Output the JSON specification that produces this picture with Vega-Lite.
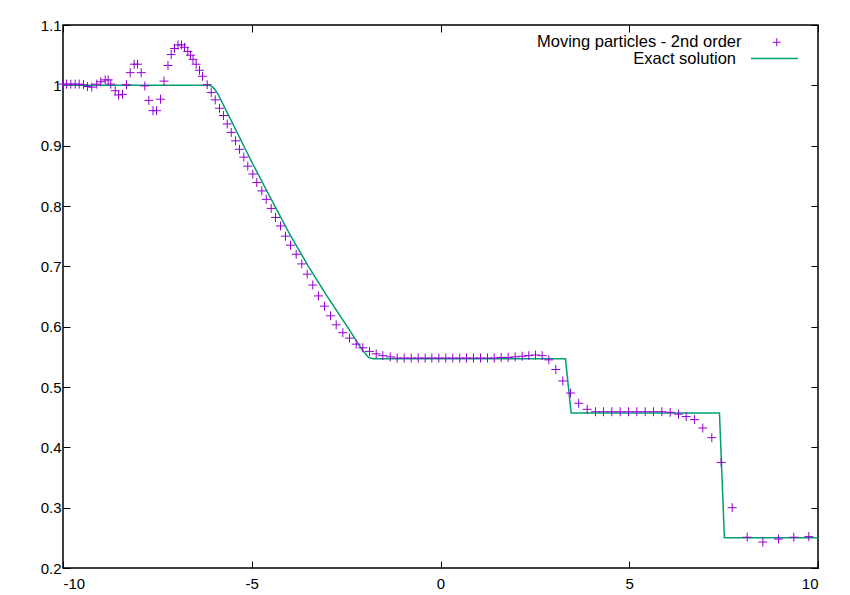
{
  "$schema": "https://vega.github.io/schema/vega-lite/v6.json",
  "autosize": {"type": "none"},
  "width": 755,
  "height": 543,
  "padding": {"left": 63, "top": 25, "right": 32, "bottom": 27},
  "background": "white",
  "config": {
    "view": {"stroke": "black", "strokeWidth": 1.5},
    "font": "Liberation Sans",
    "axis": {"grid": false, "domain": false, "tickColor": "black", "tickSize": -7, "tickWidth": 1, "labelFont": "Liberation Sans", "labelFontSize": 15, "labelColor": "black", "title": null}
  },
  "datasets": {
    "exact": [
      {"x": -10, "y": 1.0, "series": "Exact solution"},
      {"x": -6.1, "y": 1.0, "series": "Exact solution"},
      {"x": -6.0, "y": 0.995, "series": "Exact solution"},
      {"x": -5.9, "y": 0.986, "series": "Exact solution"},
      {"x": -5.5, "y": 0.936, "series": "Exact solution"},
      {"x": -5.0, "y": 0.873, "series": "Exact solution"},
      {"x": -4.5, "y": 0.813, "series": "Exact solution"},
      {"x": -4.0, "y": 0.754, "series": "Exact solution"},
      {"x": -3.5, "y": 0.700, "series": "Exact solution"},
      {"x": -3.0, "y": 0.650, "series": "Exact solution"},
      {"x": -2.5, "y": 0.603, "series": "Exact solution"},
      {"x": -2.1, "y": 0.564, "series": "Exact solution"},
      {"x": -2.0, "y": 0.556, "series": "Exact solution"},
      {"x": -1.9, "y": 0.549, "series": "Exact solution"},
      {"x": -1.8, "y": 0.547, "series": "Exact solution"},
      {"x": 3.31, "y": 0.547, "series": "Exact solution"},
      {"x": 3.46, "y": 0.457, "series": "Exact solution"},
      {"x": 7.39, "y": 0.457, "series": "Exact solution"},
      {"x": 7.52, "y": 0.25, "series": "Exact solution"},
      {"x": 10, "y": 0.25, "series": "Exact solution"}
    ],
    "particles": [
      {"x": -10.0, "y": 1.002}, {"x": -9.907, "y": 1.002}, {"x": -9.793, "y": 1.002}, {"x": -9.677, "y": 1.002},
      {"x": -9.571, "y": 1.002}, {"x": -9.457, "y": 1.001}, {"x": -9.351, "y": 0.998}, {"x": -9.237, "y": 0.997},
      {"x": -9.105, "y": 1.002}, {"x": -8.999, "y": 1.006}, {"x": -8.882, "y": 1.009}, {"x": -8.803, "y": 1.009},
      {"x": -8.734, "y": 1.002}, {"x": -8.617, "y": 0.991}, {"x": -8.530, "y": 0.984}, {"x": -8.424, "y": 0.985},
      {"x": -8.318, "y": 1.001}, {"x": -8.220, "y": 1.021}, {"x": -8.114, "y": 1.035}, {"x": -8.026, "y": 1.035},
      {"x": -7.928, "y": 1.021}, {"x": -7.833, "y": 0.999}, {"x": -7.727, "y": 0.975}, {"x": -7.616, "y": 0.958},
      {"x": -7.523, "y": 0.958}, {"x": -7.417, "y": 0.977}, {"x": -7.325, "y": 1.007}, {"x": -7.219, "y": 1.033},
      {"x": -7.134, "y": 1.051}, {"x": -7.046, "y": 1.061}, {"x": -6.954, "y": 1.067}, {"x": -6.861, "y": 1.067},
      {"x": -6.781, "y": 1.063}, {"x": -6.694, "y": 1.056}, {"x": -6.623, "y": 1.050}, {"x": -6.556, "y": 1.043},
      {"x": -6.472, "y": 1.035}, {"x": -6.384, "y": 1.025}, {"x": -6.305, "y": 1.015}, {"x": -6.180, "y": 1.001},
      {"x": -6.074, "y": 0.988}, {"x": -5.968, "y": 0.976}, {"x": -5.854, "y": 0.962}, {"x": -5.748, "y": 0.950},
      {"x": -5.650, "y": 0.936}, {"x": -5.544, "y": 0.922}, {"x": -5.430, "y": 0.908}, {"x": -5.325, "y": 0.894},
      {"x": -5.211, "y": 0.881}, {"x": -5.105, "y": 0.866}, {"x": -4.972, "y": 0.853}, {"x": -4.866, "y": 0.839},
      {"x": -4.734, "y": 0.825}, {"x": -4.617, "y": 0.811}, {"x": -4.485, "y": 0.796}, {"x": -4.371, "y": 0.781},
      {"x": -4.238, "y": 0.767}, {"x": -4.106, "y": 0.750}, {"x": -3.974, "y": 0.735}, {"x": -3.823, "y": 0.720},
      {"x": -3.674, "y": 0.704}, {"x": -3.531, "y": 0.687}, {"x": -3.383, "y": 0.669}, {"x": -3.232, "y": 0.651},
      {"x": -3.073, "y": 0.634}, {"x": -2.914, "y": 0.618}, {"x": -2.763, "y": 0.603}, {"x": -2.588, "y": 0.590},
      {"x": -2.411, "y": 0.581}, {"x": -2.233, "y": 0.571}, {"x": -2.058, "y": 0.565}, {"x": -1.881, "y": 0.559},
      {"x": -1.703, "y": 0.555}, {"x": -1.528, "y": 0.552}, {"x": -1.332, "y": 0.550}, {"x": -1.147, "y": 0.548},
      {"x": -0.962, "y": 0.548}, {"x": -0.776, "y": 0.548}, {"x": -0.591, "y": 0.548}, {"x": -0.405, "y": 0.548},
      {"x": -0.230, "y": 0.548}, {"x": -0.045, "y": 0.548}, {"x": 0.140, "y": 0.548}, {"x": 0.326, "y": 0.548},
      {"x": 0.511, "y": 0.548}, {"x": 0.689, "y": 0.548}, {"x": 0.874, "y": 0.548}, {"x": 1.060, "y": 0.548},
      {"x": 1.245, "y": 0.548}, {"x": 1.423, "y": 0.548}, {"x": 1.608, "y": 0.549}, {"x": 1.793, "y": 0.549},
      {"x": 1.979, "y": 0.550}, {"x": 2.164, "y": 0.551}, {"x": 2.339, "y": 0.552}, {"x": 2.517, "y": 0.553},
      {"x": 2.694, "y": 0.552}, {"x": 2.869, "y": 0.545}, {"x": 3.054, "y": 0.529}, {"x": 3.240, "y": 0.510},
      {"x": 3.444, "y": 0.490}, {"x": 3.661, "y": 0.473}, {"x": 3.886, "y": 0.463}, {"x": 4.106, "y": 0.459},
      {"x": 4.318, "y": 0.459}, {"x": 4.538, "y": 0.459}, {"x": 4.760, "y": 0.459}, {"x": 4.980, "y": 0.459},
      {"x": 5.200, "y": 0.459}, {"x": 5.423, "y": 0.459}, {"x": 5.642, "y": 0.459}, {"x": 5.862, "y": 0.459},
      {"x": 6.085, "y": 0.458}, {"x": 6.305, "y": 0.455}, {"x": 6.508, "y": 0.451}, {"x": 6.728, "y": 0.446},
      {"x": 6.948, "y": 0.432}, {"x": 7.187, "y": 0.416}, {"x": 7.436, "y": 0.375}, {"x": 7.727, "y": 0.300},
      {"x": 8.124, "y": 0.251}, {"x": 8.538, "y": 0.243}, {"x": 8.954, "y": 0.248}, {"x": 9.359, "y": 0.251},
      {"x": 9.756, "y": 0.252}
    ]
  },
  "layer": [
    {
      "data": {"name": "exact"},
      "mark": {"type": "line", "color": "#009e73", "strokeWidth": 1.5, "clip": true},
      "encoding": {
        "x": {"field": "x", "type": "quantitative", "scale": {"domain": [-10, 10], "nice": false, "zero": false},
              "axis": {"orient": "bottom", "values": [-10, -5, 0, 5, 10], "labelExpr": "'' + datum.value", "labelPadding": 15}},
        "y": {"field": "y", "type": "quantitative", "scale": {"domain": [0.2, 1.1], "nice": false, "zero": false},
              "axis": {"orient": "left", "values": [0.2, 0.3, 0.4, 0.5, 0.6, 0.7, 0.8, 0.9, 1.0, 1.1], "labelExpr": "'' + round(datum.value*10)/10", "labelPadding": 9}},
        "strokeDash": {"field": "series", "type": "nominal", "scale": {"range": [[1, 0]]},
          "legend": {"orient": "none", "legendX": 687, "legendY": 9, "title": null, "symbolType": "stroke", "symbolSize": 2209,
                     "symbolStrokeColor": "#009e73", "symbolStrokeWidth": 1.5, "labelAlign": "right", "labelOffset": -63, "labelLimit": 400,
                     "labelFont": "Liberation Sans", "labelFontSize": 16.5, "labelColor": "black"}}
      }
    },
    {
      "data": {"name": "particles"},
      "transform": [{"calculate": "'Moving particles - 2nd order'", "as": "series"}],
      "mark": {"type": "point", "filled": false, "color": "#9400d3", "strokeWidth": 1, "size": 81, "opacity": 1},
      "encoding": {
        "x": {"field": "x", "type": "quantitative",
              "axis": {"orient": "top", "values": [-10, -5, 0, 5, 10], "labels": false}},
        "y": {"field": "y", "type": "quantitative",
              "axis": {"orient": "right", "values": [0.2, 0.3, 0.4, 0.5, 0.6, 0.7, 0.8, 0.9, 1.0, 1.1], "labels": false}},
        "shape": {"field": "series", "type": "nominal", "scale": {"range": ["M-1,0H1M0,-1V1"]},
          "legend": {"orient": "none", "legendX": 705.5, "legendY": 9, "title": null, "symbolSize": 64,
                     "symbolStrokeColor": "#9400d3", "symbolFillColor": "transparent", "symbolStrokeWidth": 1,
                     "labelAlign": "right", "labelOffset": -43.5, "labelLimit": 400,
                     "labelFont": "Liberation Sans", "labelFontSize": 16.5, "labelColor": "black"}}
      }
    }
  ],
  "resolve": {"axis": {"x": "independent", "y": "independent"}, "legend": {"shape": "independent", "strokeDash": "independent"}}
}
